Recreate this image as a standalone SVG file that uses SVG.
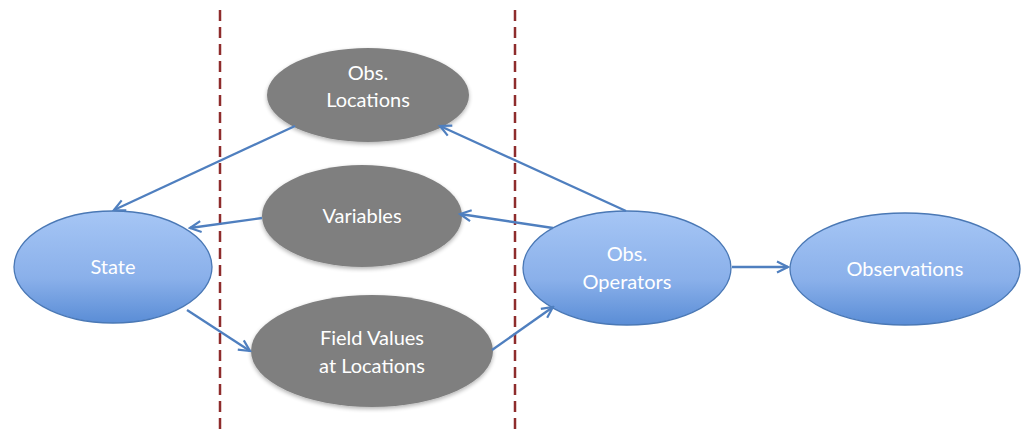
<svg xmlns="http://www.w3.org/2000/svg" width="1023" height="433" viewBox="0 0 1023 433">
<defs>
<linearGradient id="blue" x1="0" y1="0" x2="0" y2="1">
<stop offset="0" stop-color="#A6C6F5"/>
<stop offset="0.6" stop-color="#8AB0EA"/>
<stop offset="1" stop-color="#5A8DD6"/>
</linearGradient>
<filter id="sh" x="-10%" y="-10%" width="120%" height="130%">
<feGaussianBlur in="SourceAlpha" stdDeviation="2"/>
<feOffset dy="2"/>
<feComponentTransfer><feFuncA type="linear" slope="0.3"/></feComponentTransfer>
<feMerge><feMergeNode/><feMergeNode in="SourceGraphic"/></feMerge>
</filter>
<marker id="arr" viewBox="0 0 14 14" refX="12" refY="7" markerWidth="14" markerHeight="14" markerUnits="userSpaceOnUse" orient="auto">
<path d="M1,1.5 L12,7 L1,12.5" fill="none" stroke="#4F7FBF" stroke-width="2.2"/>
</marker>
</defs>
<style>
.blue{fill:url(#blue);stroke:#4A78B5;stroke-width:1.3}
.grey{fill:#7F7F7F;filter:url(#sh)}
.t{font-family:Lato,"Open Sans","Liberation Sans",sans-serif;font-size:20px;fill:#fff;text-anchor:middle}
.c{stroke:#4F7FBF;stroke-width:2.3;fill:none;marker-end:url(#arr)}
.d{stroke:#8E2C2C;stroke-width:2.5;stroke-dasharray:11,6}
</style>
<rect width="1023" height="433" fill="#fff"/>
<g id="dividers">
<line class="d" x1="220" y1="10" x2="220" y2="433"/>
<line class="d" x1="515" y1="10" x2="515" y2="433"/>
</g>
<g id="state"><ellipse class="blue" cx="113" cy="267" rx="99" ry="56"/><text class="t" x="113" y="274">State</text></g>
<g id="obs-locations"><ellipse class="grey" cx="368" cy="95" rx="101" ry="47"/><text class="t" x="368" y="80">Obs.</text><text class="t" x="368" y="107">Locations</text></g>
<g id="variables"><ellipse class="grey" cx="362" cy="216" rx="100" ry="51"/><text class="t" x="362" y="223">Variables</text></g>
<g id="field-values"><ellipse class="grey" cx="372" cy="351" rx="121" ry="56"/><text class="t" x="372" y="345">Field Values</text><text class="t" x="372" y="373">at Locations</text></g>
<g id="obs-operators"><ellipse class="blue" cx="627" cy="268" rx="104" ry="57"/><text class="t" x="627" y="261">Obs.</text><text class="t" x="627" y="289">Operators</text></g>
<g id="observations"><ellipse class="blue" cx="905" cy="269" rx="115" ry="56"/><text class="t" x="905" y="276">Observations</text></g>
<g id="connectors">
<line class="c" x1="295" y1="126" x2="114" y2="210"/>
<line class="c" x1="262" y1="218" x2="190" y2="228"/>
<line class="c" x1="187" y1="310" x2="250" y2="351"/>
<line class="c" x1="492" y1="350" x2="553" y2="307"/>
<line class="c" x1="553" y1="228" x2="460" y2="214"/>
<line class="c" x1="626" y1="211" x2="440" y2="126"/>
<line class="c" x1="732" y1="267" x2="788" y2="267"/>
</g>
</svg>
